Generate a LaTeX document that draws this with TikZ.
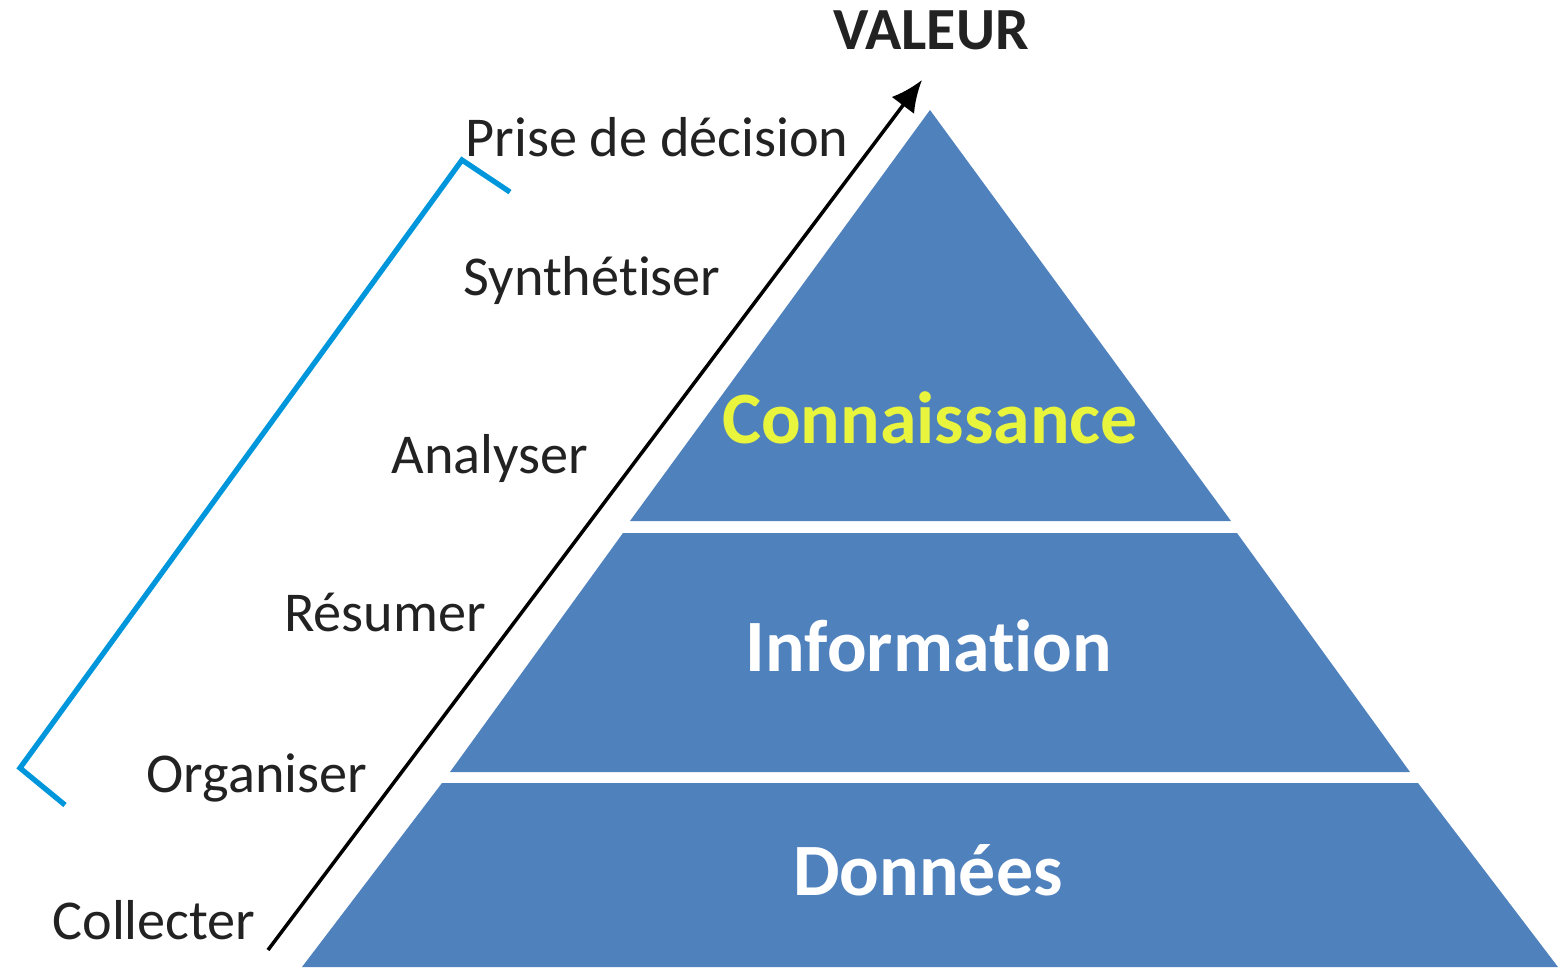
\documentclass[tikz,border=0pt]{standalone}
\usepackage{fontspec}
\setmainfont{Carlito}[Ligatures={NoCommon}]
\usetikzlibrary{arrows.meta}

\definecolor{pyrblue}{RGB}{79,129,189}
\definecolor{bracketblue}{RGB}{0,150,219}
\definecolor{knowyellow}{RGB}{232,245,60}
\definecolor{labelgray}{RGB}{34,34,34}

\begin{document}
\begin{tikzpicture}[x=0.01cm, y=-0.01cm,
  step label/.style={text=labelgray, font=\fontsize{16}{19}\selectfont},
  layer label/.style={font=\bfseries\fontsize{21}{25}\selectfont}]
\useasboundingbox (0,0) rectangle (1562,969);

% pyramid layers
\fill[pyrblue] (930,110) -- (1231,521) -- (630,521) -- cycle;
\fill[pyrblue] (623,533) -- (1237,533) -- (1410,772) -- (450,772) -- cycle;
\fill[pyrblue] (442,783) -- (1418,783) -- (1558,967) -- (302,967) -- cycle;

\node[layer label, text=knowyellow] (know) at (930,418) {Connaissance};
\node[layer label, text=white] (info) at (929,646) {Information};
\node[layer label, text=white] (data) at (928,870) {Données};

% value arrow
\coordinate (start) at (268,950);
\coordinate (tip) at (922,80);
\draw[line width=1pt, -{Latex[length=9pt, width=8pt]}] (start) -- (tip);
\node[font=\bfseries\fontsize{17}{20}\selectfont, text=labelgray] (value) at (931,30) {VALEUR};

% steps
\node[step label] (collect) at (154,920) {Collecter};
\node[step label] (organise) at (257,778) {Organiser};
\node[step label] (resume) at (385,612) {Résumer};
\node[step label] (analyse) at (490,458) {Analyser};
\node[step label] (synth) at (592,280) {Synthétiser};
\node[step label] (decide) at (657,137) {Prise de décision};

% bracket
\coordinate (b1) at (510,192);
\coordinate (b2) at (462,160);
\coordinate (b3) at (20,768);
\coordinate (b4) at (65,805);
\draw[bracketblue, line width=1.5pt] (b1) -- (b2) -- (b3) -- (b4);

\end{tikzpicture}
\end{document}
